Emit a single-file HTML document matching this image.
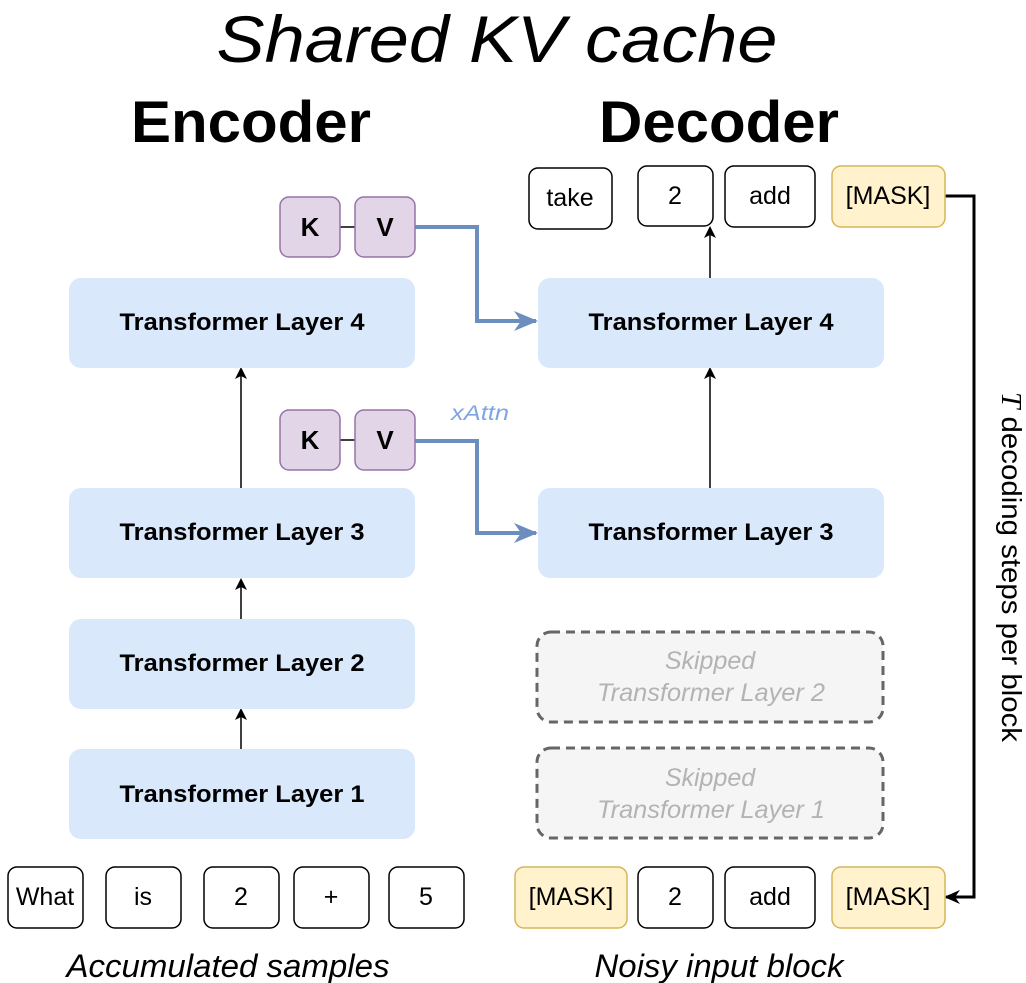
<!DOCTYPE html>
<html><head><meta charset="utf-8"><style>
html,body{margin:0;padding:0;background:#fff;}
svg{display:block;}
text{font-family:"Liberation Sans",Arial,sans-serif;}
</style></head><body>
<svg width="1026" height="983" viewBox="0 0 1026 983" xmlns="http://www.w3.org/2000/svg">
<defs>
<marker id="ab" markerWidth="12" markerHeight="12" refX="10" refY="6" orient="auto" markerUnits="userSpaceOnUse"><path d="M0,0 L12,6 L0,12 L3,6 Z" fill="#000"/></marker>
<marker id="ak" markerWidth="16" markerHeight="16" refX="14" refY="8" orient="auto" markerUnits="userSpaceOnUse"><path d="M0,1 L16,8 L0,15 L5,8 Z" fill="#000"/></marker>
<marker id="abl" markerWidth="24" markerHeight="24" refX="22" refY="12" orient="auto" markerUnits="userSpaceOnUse"><path d="M0,2 L24,12 L0,22 L7,12 Z" fill="#6c8ebf"/></marker>
</defs>
<text x="497" y="62" font-size="66" font-style="italic" text-anchor="middle" textLength="561" lengthAdjust="spacingAndGlyphs">Shared KV cache</text>
<text x="251" y="142" font-size="58" font-weight="bold" text-anchor="middle" textLength="240" lengthAdjust="spacingAndGlyphs">Encoder</text>
<text x="719" y="142" font-size="58" font-weight="bold" text-anchor="middle" textLength="240" lengthAdjust="spacingAndGlyphs">Decoder</text>

<g stroke="#000" stroke-width="1.5" fill="none">
<line x1="241" y1="488" x2="241" y2="369" marker-end="url(#ab)"/>
<line x1="241" y1="619" x2="241" y2="580" marker-end="url(#ab)"/>
<line x1="241" y1="749" x2="241" y2="710" marker-end="url(#ab)"/>
<line x1="710" y1="488" x2="710" y2="369" marker-end="url(#ab)"/>
<line x1="710" y1="278" x2="710" y2="228" marker-end="url(#ab)"/>
<line x1="340" y1="227" x2="355" y2="227"/>
<line x1="340" y1="440" x2="355" y2="440"/>
</g>
<g stroke="#000" stroke-width="3" fill="none">
<polyline points="945,196 974,196 974,897 946,897" marker-end="url(#ak)"/>
</g>

<g fill="#dae8fc">
<rect x="69" y="278" width="346" height="90" rx="12"/>
<rect x="69" y="488" width="346" height="90" rx="12"/>
<rect x="69" y="619" width="346" height="90" rx="12"/>
<rect x="69" y="749" width="346" height="90" rx="12"/>
<rect x="538" y="278" width="346" height="90" rx="12"/>
<rect x="538" y="488" width="346" height="90" rx="12"/>
</g>
<g font-size="24" font-weight="bold" text-anchor="middle">
<text x="242" y="330" textLength="245" lengthAdjust="spacingAndGlyphs">Transformer Layer 4</text>
<text x="242" y="540" textLength="245" lengthAdjust="spacingAndGlyphs">Transformer Layer 3</text>
<text x="242" y="671" textLength="245" lengthAdjust="spacingAndGlyphs">Transformer Layer 2</text>
<text x="242" y="802" textLength="245" lengthAdjust="spacingAndGlyphs">Transformer Layer 1</text>
<text x="711" y="330" textLength="245" lengthAdjust="spacingAndGlyphs">Transformer Layer 4</text>
<text x="711" y="540" textLength="245" lengthAdjust="spacingAndGlyphs">Transformer Layer 3</text>
</g>
<g fill="#f5f5f5" stroke="#666" stroke-width="3" stroke-dasharray="9,6">
<rect x="537" y="632" width="346" height="90" rx="14"/>
<rect x="537" y="748" width="346" height="90" rx="14"/>
</g>
<g font-size="25" font-style="italic" fill="#b3b3b3" text-anchor="middle">
<text x="710" y="669">Skipped</text>
<text x="711" y="701" textLength="228" lengthAdjust="spacingAndGlyphs">Transformer Layer 2</text>
<text x="710" y="786">Skipped</text>
<text x="711" y="818" textLength="228" lengthAdjust="spacingAndGlyphs">Transformer Layer 1</text>
</g>

<g stroke="#6c8ebf" stroke-width="4" fill="none">
<polyline points="415,227 477,227 477,321 536,321" marker-end="url(#abl)"/>
<polyline points="415,441 477,441 477,533 536,533" marker-end="url(#abl)"/>
</g>
<text x="451" y="420" font-size="21" font-style="italic" fill="#7ea6e0" textLength="58" lengthAdjust="spacingAndGlyphs">xAttn</text>

<g fill="#e1d5e7" stroke="#9673a6" stroke-width="1.5">
<rect x="280" y="197" width="60" height="60" rx="9"/>
<rect x="355" y="197" width="60" height="60" rx="9"/>
<rect x="280" y="410" width="60" height="60" rx="9"/>
<rect x="355" y="410" width="60" height="60" rx="9"/>
</g>
<g font-size="26" font-weight="bold" text-anchor="middle">
<text x="310" y="236">K</text><text x="385" y="236">V</text>
<text x="310" y="449">K</text><text x="385" y="449">V</text>
</g>

<g fill="#fff" stroke="#000" stroke-width="1.5">
<rect x="529" y="168" width="83" height="61" rx="9"/>
<rect x="638" y="166" width="75" height="60" rx="9"/>
<rect x="725" y="166" width="90" height="61" rx="9"/>
<rect x="8" y="867" width="75" height="61" rx="9"/>
<rect x="106" y="867" width="75" height="61" rx="9"/>
<rect x="204" y="867" width="75" height="61" rx="9"/>
<rect x="294" y="867" width="75" height="61" rx="9"/>
<rect x="389" y="867" width="75" height="61" rx="9"/>
<rect x="638" y="867" width="75" height="61" rx="9"/>
<rect x="725" y="867" width="90" height="61" rx="9"/>
</g>
<g fill="#fff2cc" stroke="#d6b656" stroke-width="1.5">
<rect x="832" y="166" width="113" height="61" rx="9"/>
<rect x="515" y="867" width="112" height="61" rx="9"/>
<rect x="832" y="867" width="113" height="61" rx="9"/>
</g>
<g font-size="25" text-anchor="middle">
<text x="570" y="206">take</text>
<text x="675" y="204">2</text>
<text x="770" y="204">add</text>
<text x="888" y="204">[MASK]</text>
<text x="45" y="905">What</text>
<text x="143" y="905">is</text>
<text x="241" y="905">2</text>
<text x="331" y="905">+</text>
<text x="426" y="905">5</text>
<text x="571" y="905">[MASK]</text>
<text x="675" y="905">2</text>
<text x="770" y="905">add</text>
<text x="888" y="905">[MASK]</text>
</g>

<text x="228" y="977" font-size="32" font-style="italic" text-anchor="middle" textLength="323" lengthAdjust="spacingAndGlyphs">Accumulated samples</text>
<text x="719" y="977" font-size="32" font-style="italic" text-anchor="middle" textLength="249" lengthAdjust="spacingAndGlyphs">Noisy input block</text>

<text transform="translate(1002,567) rotate(90)" font-size="28" text-anchor="middle" textLength="350" lengthAdjust="spacingAndGlyphs"><tspan font-family="Liberation Serif,serif" font-style="italic">T</tspan> decoding steps per block</text>
</svg>
</body></html>
